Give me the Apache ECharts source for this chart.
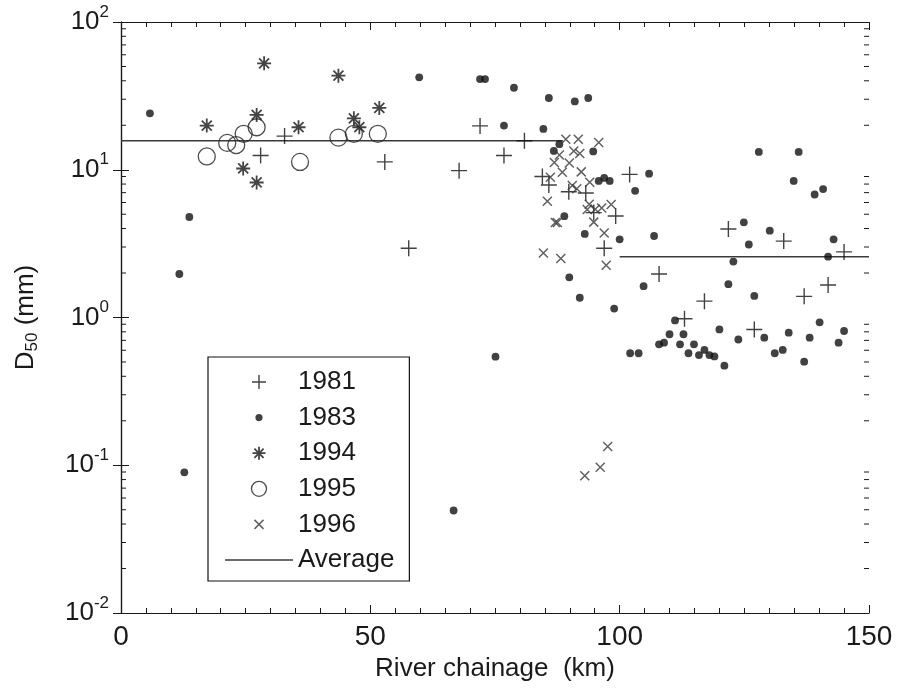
<!DOCTYPE html>
<html>
<head>
<meta charset="utf-8">
<script src="https://cdn.jsdelivr.net/npm/echarts@6/dist/echarts.min.js"></script>
<style>
  html, body { margin: 0; padding: 0; background: #fff; }
  #chart { width: 898px; height: 688px; }
</style>
</head>
<body>
<div id="chart"></div>
<script>
// Median grain size (D50) along the river, by survey year
const km1981 = [28.0, 32.8, 52.9, 57.7, 67.8, 72.0, 76.8, 80.9, 84.5, 85.8, 89.8, 93.2, 94.8, 99.2, 96.9, 102.0, 107.9, 113.0, 117.0, 121.8, 127.0, 132.9, 137.0, 141.8, 145.0];
const d50_1981 = [12.5, 16.9, 11.3, 2.94, 9.86, 19.8, 12.5, 15.7, 9.0, 7.88, 7.1, 6.96, 5.13, 4.86, 2.94, 9.3, 1.97, 0.98, 1.29, 3.97, 0.83, 3.29, 1.39, 1.66, 2.78];

const km1983 = [5.8, 11.7, 12.7, 13.7, 59.8, 72.0, 73.0, 78.8, 76.8, 66.7, 75.1, 84.7, 85.8, 91.0, 93.7, 87.9, 86.8, 94.7, 95.8, 96.9,
                98.0, 103.1, 105.9, 88.9, 93.0, 100.0, 106.9, 89.9, 104.8, 92.0, 98.9, 111.1, 102.1, 103.8, 107.9, 108.9, 110.0, 112.1, 112.8, 113.8,
                114.9, 115.9, 117.0, 118.0, 119.0, 120.0, 121.0, 121.8, 122.8, 123.8, 124.9, 125.9, 127.0, 127.9, 129.0, 130.1, 131.1, 132.7, 133.9, 134.9,
                135.9, 137.0, 138.1, 139.1, 140.1, 140.8, 141.8, 142.9, 143.9, 145.0];
const d50_1983 = [24.1, 1.97, 0.0896, 4.79, 42.2, 41.1, 41.1, 35.9, 19.9, 0.0494, 0.543, 18.9, 30.6, 29.0, 30.6, 14.9, 13.4, 13.3, 8.4, 8.8,
                  8.4, 7.2, 9.4, 4.85, 3.68, 3.38, 3.56, 1.87, 1.63, 1.36, 1.15, 0.955, 0.573, 0.573, 0.658, 0.675, 0.77, 0.658, 0.77, 0.573,
                  0.658, 0.557, 0.603, 0.557, 0.545, 0.83, 0.472, 1.68, 2.39, 0.71, 4.41, 3.12, 1.40, 13.2, 0.73, 3.87, 0.573, 0.603, 0.79, 8.4,
                  13.2, 0.502, 0.73, 6.8, 0.927, 7.4, 2.58, 3.38, 0.675, 0.81];

const km1994 = [17.2, 24.5, 27.2, 27.2, 28.7, 35.6, 43.6, 46.7, 47.8, 51.8];
const d50_1994 = [19.9, 10.2, 23.5, 8.2, 52.5, 19.4, 43.3, 22.3, 19.4, 26.2];

const km1995 = [17.2, 21.3, 23.1, 24.6, 27.2, 35.9, 43.6, 46.7, 51.5];
const d50_1995 = [12.3, 15.2, 14.7, 17.5, 19.4, 11.3, 16.5, 17.5, 17.5];

const km1996 = [89.2, 91.7, 95.8, 87.9, 90.8, 92.0, 86.9, 89.9, 88.5, 92.3, 86.1, 94.0, 90.5, 91.4, 85.5, 93.9, 93.5, 95.1, 96.4, 98.3,
                94.8, 87.1, 87.5, 96.9, 84.7, 88.2, 97.3, 97.6, 96.1, 93.0];
const d50_1996 = [16.1, 16.1, 15.3, 12.6, 13.4, 12.9, 11.2, 11.1, 9.63, 9.67, 8.89, 8.24, 7.82, 7.43, 6.12, 5.84, 5.38, 5.4, 5.51, 5.82,
                  4.42, 4.40, 4.40, 3.73, 2.73, 2.51, 2.26, 0.134, 0.097, 0.085];

// Reach averages: upstream reach and downstream reach
const avgUpKm = [0, 88.6];
const avgUpD50 = 15.7;
const avgDownKm = [100, 150];
const avgDownD50 = 2.58;

const xTickLabels = ['0', '50', '100', '150'];

const FONT = '"Liberation Sans", Arial, Helvetica, sans-serif';
const INK = '#1a1a1a';

const pairs = (xs, ys) => xs.map((x, i) => [x, Array.isArray(ys) ? ys[i] : ys]);

// marker shapes (stroked paths)
const PLUS = 'path://M0,8L16,8M8,0L8,16';
const STAR = 'path://M7,0L7,14M0,7L14,7M2,2L12,12M2,12L12,2';
const CROSS = 'path://M0,0L10,10M0,10L10,0';

// legend icons padded to a common 16x16 box so each keeps its plotted size
const L_PLUS = 'path://M0,0M16,16M1,8L15,8M8,1L8,15';
const L_DOT = 'path://M0,0M16,16M8,4.4A3.6,3.6,0,1,1,7.99,4.4Z';
const L_STAR = 'path://M0,0M16,16M8,1.5L8,14.5M1.5,8L14.5,8M3.4,3.4L12.6,12.6M3.4,12.6L12.6,3.4';
const L_CIRC = 'path://M0,0M16,16M8,0.5A7.5,7.5,0,1,1,7.99,0.5Z';
const L_CROSS = 'path://M0,0M16,16M3.5,3.5L12.5,12.5M3.5,12.5L12.5,3.5';
const L_LINE = 'path://M0,0L68,0L68,1.6L0,1.6Z';

// log-spaced minor ticks (2..9 per decade) for the left and right frames
const yMinorTicks = [];
for (let e = -2; e < 2; e++) {
  for (let m = 2; m <= 9; m++) yMinorTicks.push([0, +(m * Math.pow(10, e)).toPrecision(3)]);
}

const strokeStyle = (c, w) => ({ color: 'rgba(0,0,0,0)', borderColor: c, borderWidth: w });

const chart = echarts.init(document.getElementById('chart'), null, { renderer: 'canvas' });

const yLabelFmt = v => {
  const e = Math.round(Math.log10(v));
  return '{b|10}{s|' + e + '}';
};

chart.setOption({
  animation: false,
  backgroundColor: '#fff',
  textStyle: { fontFamily: FONT, color: INK },
  grid: { left: 121, right: 29, top: 22, bottom: 75, containLabel: false },
  xAxis: [
    {
      type: 'value', position: 'bottom', min: 0, max: 150, interval: 50,
      name: 'River chainage  (km)', nameLocation: 'middle', nameGap: 36,
      nameTextStyle: { fontSize: 26, fontFamily: FONT, color: INK },
      axisLine: { show: true, lineStyle: { color: INK, width: 1.2 } },
      axisTick: { show: true, inside: true, length: 8, lineStyle: { color: INK, width: 1 } },
      minorTick: { show: true, splitNumber: 10, length: 5, lineStyle: { color: INK, width: 1 } },
      splitLine: { show: false },
      axisLabel: { fontSize: 28, fontFamily: FONT, color: INK, margin: 10,
                   formatter: v => xTickLabels[Math.round(v / 50)] }
    },
    {
      type: 'value', position: 'top', min: 0, max: 150, interval: 50,
      axisLine: { show: true, lineStyle: { color: INK, width: 1.2 } },
      axisTick: { show: true, inside: true, length: 8, lineStyle: { color: INK, width: 1 } },
      minorTick: { show: true, splitNumber: 10, length: 5, lineStyle: { color: INK, width: 1 } },
      splitLine: { show: false },
      axisLabel: { show: false }
    }
  ],
  yAxis: [
    {
      type: 'log', logBase: 10, min: 0.01, max: 100, position: 'left',
      name: '{n|D}{sub|50}{n| (mm)}', nameLocation: 'middle', nameGap: 80, nameRotate: 90,
      nameTextStyle: {
        fontFamily: FONT, color: INK,
        rich: {
          n: { fontSize: 26, fontFamily: FONT, color: INK },
          sub: { fontSize: 17, fontFamily: FONT, color: INK, padding: [14, 0, 0, 0] }
        }
      },
      axisLine: { show: true, lineStyle: { color: INK, width: 1.2 } },
      axisTick: { show: true, inside: true, length: 8, lineStyle: { color: INK, width: 1 } },
      splitLine: { show: false },
      axisLabel: {
        margin: 12, formatter: yLabelFmt,
        rich: {
          b: { fontSize: 26, fontFamily: FONT, color: INK },
          s: { fontSize: 17, fontFamily: FONT, color: INK, padding: [0, 0, 20, 0] }
        }
      }
    },
    {
      type: 'log', logBase: 10, min: 0.01, max: 100, position: 'right',
      axisLine: { show: true, lineStyle: { color: INK, width: 1.2 } },
      axisTick: { show: true, inside: true, length: 8, lineStyle: { color: INK, width: 1 } },
      splitLine: { show: false },
      axisLabel: { show: false }
    }
  ],
  legend: {
    orient: 'vertical', left: 208, top: 357,
    padding: [12, 15, 8, 17],
    itemWidth: 68, itemHeight: 16, itemGap: 9.6,
    borderColor: '#111', borderWidth: 1.2, backgroundColor: '#fff',
    selectedMode: false,
    textStyle: { fontSize: 26, fontFamily: FONT, color: INK, lineHeight: 24 },
    data: [
      { name: '1981', icon: L_PLUS, itemStyle: strokeStyle('#111', 1.4) },
      { name: '1983', icon: L_DOT, itemStyle: { color: '#111', borderWidth: 0 } },
      { name: '1994', icon: L_STAR, itemStyle: strokeStyle('#151515', 1.8) },
      { name: '1995', icon: L_CIRC, itemStyle: strokeStyle('#222', 1.3) },
      { name: '1996', icon: L_CROSS, itemStyle: strokeStyle('#3a3a3a', 1.5) },
      { name: 'Average', icon: L_LINE, itemStyle: { color: '#3a3a3a', borderWidth: 0 } }
    ]
  },
  series: [
    {
      name: 'Average', type: 'line', data: pairs(avgUpKm, avgUpD50),
      symbol: 'none', silent: true, z: 1,
      lineStyle: { color: '#3a3a3a', width: 1.6 }, itemStyle: { color: '#3a3a3a' }
    },
    {
      name: 'Average', type: 'line', data: pairs(avgDownKm, avgDownD50),
      symbol: 'none', silent: true, z: 1,
      lineStyle: { color: '#3a3a3a', width: 1.6 }, itemStyle: { color: '#3a3a3a' }
    },
    {
      name: '1981', type: 'scatter', data: pairs(km1981, d50_1981),
      symbol: PLUS, symbolSize: 16, silent: true, z: 3,
      itemStyle: strokeStyle('#111', 1.4)
    },
    {
      name: '1983', type: 'scatter', data: pairs(km1983, d50_1983),
      symbol: 'circle', symbolSize: 7.8, silent: true, z: 3,
      itemStyle: { color: '#111' }
    },
    {
      name: '1994', type: 'scatter', data: pairs(km1994, d50_1994),
      symbol: STAR, symbolSize: 14, silent: true, z: 3,
      itemStyle: strokeStyle('#151515', 1.8)
    },
    {
      name: '1995', type: 'scatter', data: pairs(km1995, d50_1995),
      symbol: 'circle', symbolSize: 17, silent: true, z: 3,
      itemStyle: strokeStyle('#222', 1.3)
    },
    {
      name: '1996', type: 'scatter', data: pairs(km1996, d50_1996),
      symbol: CROSS, symbolSize: 9, silent: true, z: 3,
      itemStyle: strokeStyle('#3a3a3a', 1.5)
    },
    {
      name: 'minorTicks', type: 'custom', data: yMinorTicks, silent: true, z: 2,
      renderItem: (params, api) => {
        const v = api.value(1);
        const l = api.coord([0, v]);
        const r = api.coord([150, v]);
        const st = { stroke: INK, lineWidth: 1 };
        return {
          type: 'group',
          children: [
            { type: 'line', shape: { x1: l[0], y1: l[1], x2: l[0] + 5, y2: l[1] }, style: st },
            { type: 'line', shape: { x1: r[0] - 5, y1: r[1], x2: r[0], y2: r[1] }, style: st }
          ]
        };
      }
    }
  ]
});
</script>
</body>
</html>
